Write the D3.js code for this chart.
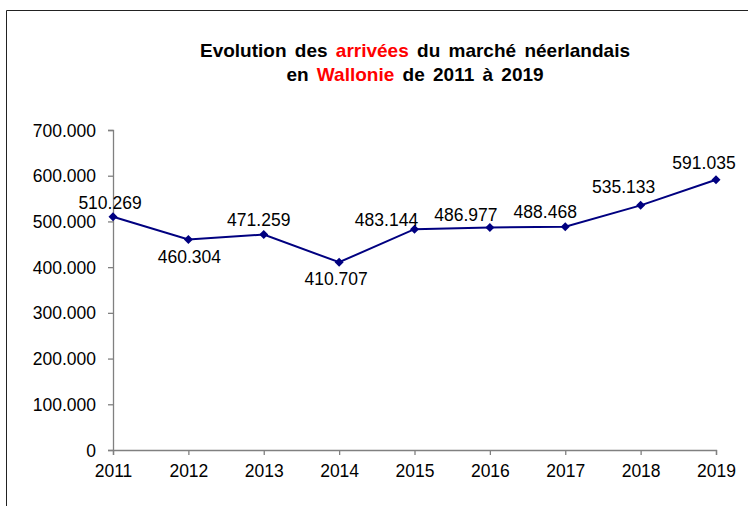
<!DOCTYPE html>
<html>
<head>
<meta charset="utf-8">
<script src="https://cdn.jsdelivr.net/npm/d3@7"></script>
<style>
  body { margin: 0; background: #fff; }
  text { font-family: "Liberation Sans", Arial, sans-serif; }
</style>
</head>
<body>
<div id="chart"></div>
<script>
const years = [2011, 2012, 2013, 2014, 2015, 2016, 2017, 2018, 2019];
const arrivals = [510269, 460304, 471259, 410707, 483144, 486977, 488468, 535133, 591035];
const yTicks = [0, 100000, 200000, 300000, 400000, 500000, 600000, 700000];

// placement des étiquettes (décalage depuis le point)
const labelDx = [-3, 1, -5, -3, -28, -24, -20, -17, -12];
const labelDy = [-8, 23, -9, 23, -3, -6, -9, -12, -11];

const width = 748;
const height = 506;
const margin = { top: 130, right: 32, bottom: 56, left: 113 };
const graphWidth = width - margin.left - margin.right;
const graphHeight = height - margin.top - margin.bottom;

const fmt = (v) => (v === 0 ? "0" : d3.format(",.0f")(v).replace(/,/g, "."));

const svg = d3
  .select("#chart")
  .append("svg")
  .attr("width", width)
  .attr("height", height);

// cadre
svg
  .append("path")
  .attr("d", `M6.5,${height} V10.5 H${width}`)
  .style("fill", "none")
  .style("stroke", "#222")
  .style("stroke-width", 1);

// titre
const title = svg
  .append("text")
  .attr("text-anchor", "middle")
  .style("font-weight", "bold")
  .style("font-size", "19px")
  .style("word-spacing", "3px");
const l1 = title.append("tspan").attr("x", 415).attr("y", 57);
l1.append("tspan").text("Evolution des ");
l1.append("tspan").style("fill", "#ff0000").text("arrivées");
l1.append("tspan").text(" du marché néerlandais");
const l2 = title.append("tspan").attr("x", 415).attr("y", 81);
l2.append("tspan").text("en ");
l2.append("tspan").style("fill", "#ff0000").text("Wallonie");
l2.append("tspan").text(" de 2011 à 2019");

const g = svg
  .append("g")
  .attr("transform", `translate(${margin.left}, ${margin.top})`);

const x = d3
  .scalePoint()
  .domain(years)
  .range([0, graphWidth]);

const y = d3
  .scaleLinear()
  .domain([0, 700000])
  .range([graphHeight, 0]);

// Eixos
const xAxis = g
  .append("g")
  .attr("transform", `translate(0,${graphHeight})`)
  .call(d3.axisBottom(x).tickSizeOuter(0).tickSize(5).tickPadding(10));

const yAxis = g
  .append("g")
  .call(d3.axisLeft(y).tickValues(yTicks).tickFormat(fmt).tickSizeOuter(0).tickSize(5).tickPadding(12));

[xAxis, yAxis].forEach((a) => {
  a.selectAll("path, line").style("stroke", "#808080").style("stroke-width", 1.3);
  a.selectAll("text")
    .style("font-size", "17.5px")
    .style("fill", "#000")
    .style("font-family", '"Liberation Sans", Arial, sans-serif');
});
yAxis.selectAll("text").attr("dy", "0.35em");

// Linha
const line = d3
  .line()
  .x((d, i) => x(years[i]))
  .y((d) => y(d));

g.append("path")
  .datum(arrivals)
  .attr("d", line)
  .style("fill", "none")
  .style("stroke", "#000080")
  .style("stroke-width", 2);

// Marcadores
g.selectAll(".pt")
  .data(arrivals)
  .enter()
  .append("path")
  .attr("class", "pt")
  .attr("transform", (d, i) => `translate(${x(years[i])},${y(d)})`)
  .attr("d", "M0,-4.5 L4.5,0 L0,4.5 L-4.5,0 Z")
  .style("fill", "#000080");

// Etiquetas
g.selectAll(".lbl")
  .data(arrivals)
  .enter()
  .append("text")
  .attr("class", "lbl")
  .attr("x", (d, i) => x(years[i]) + labelDx[i])
  .attr("y", (d, i) => y(d) + labelDy[i])
  .attr("text-anchor", "middle")
  .style("font-size", "17.5px")
  .style("fill", "#000")
  .text(fmt);
</script>
</body>
</html>
